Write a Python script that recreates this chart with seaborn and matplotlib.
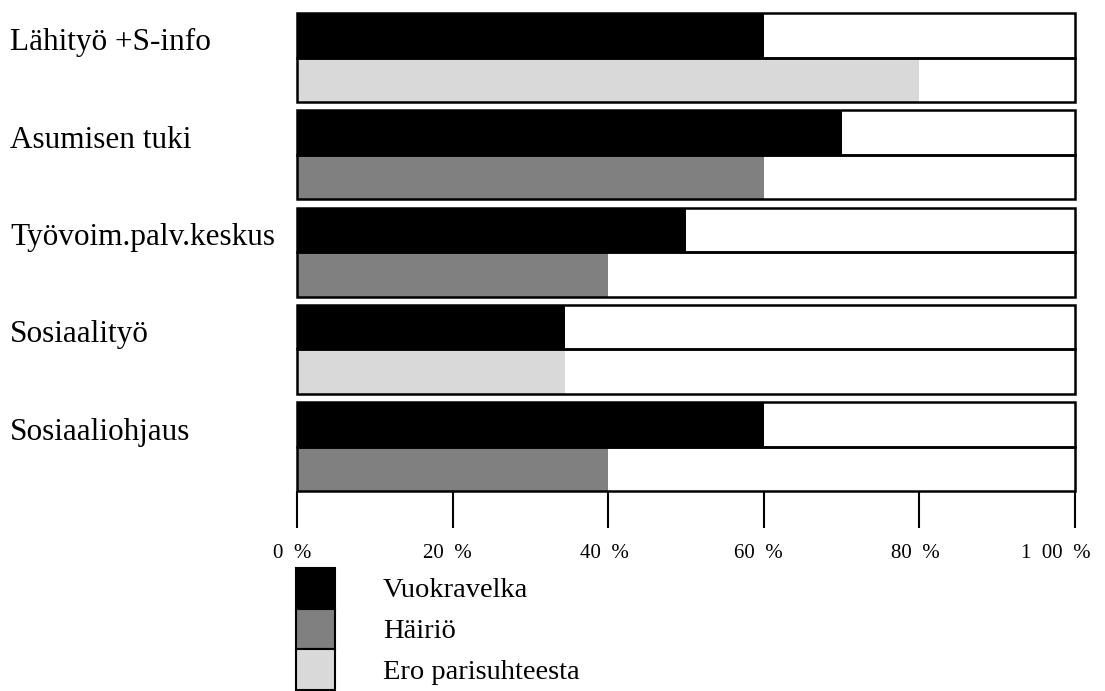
import numpy as np
import pandas as pd
import seaborn as sns
import matplotlib.pyplot as plt
from matplotlib.patches import Patch
from matplotlib import transforms
sns.set_style('white')
plt.rcParams['font.family'] = ['Liberation Serif', 'DejaVu Serif']
plt.rcParams['text.color'] = 'black'
plt.rcParams['xtick.color'] = 'black'

# data
categories = ["Lähityö +S-info", "Asumisen tuki", "Työvoim.palv.keskus", "Sosiaalityö", "Sosiaaliohjaus"]
vuokravelka = [60, 70, 50, 34.5, 60]
toinen_sarja = ["Ero parisuhteesta", "Häiriö", "Häiriö", "Ero parisuhteesta", "Häiriö"]
toinen_arvo = [80, 60, 40, 34.5, 40]
series_names = ["Vuokravelka", "Häiriö", "Ero parisuhteesta"]
series_colors = {"Vuokravelka": "#000000", "Häiriö": "#808080", "Ero parisuhteesta": "#d9d9d9"}
x_ticks = [0, 20, 40, 60, 80, 100]
x_labels = ["0  %", "20  %", "40  %", "60  %", "80  %", "1  00  %"]

df = pd.DataFrame({
    'kategoria': categories * 2,
    'rivi': ['yla'] * len(categories) + ['ala'] * len(categories),
    'sarja': ['Vuokravelka'] * len(categories) + toinen_sarja,
    'arvo': vuokravelka + toinen_arvo,
})
df['kehys'] = 100
rows = ['yla', 'ala']
W = 0.915

fig = plt.figure(figsize=(11.05, 6.91), dpi=100)
ax = fig.add_axes([297 / 1105, 1 - 491.3 / 691, 778 / 1105, 482.4 / 691])

# filled bars
sns.barplot(data=df, y='kategoria', x='arvo', hue='rivi', hue_order=rows, order=categories,
            orient='h', width=W, palette=['black', 'black'], saturation=1, linewidth=0,
            errorbar=None, legend=False, ax=ax)
for cont, r in zip(ax.containers, rows):
    for bar, s in zip(cont, df[df['rivi'] == r]['sarja']):
        bar.set_facecolor(series_colors[s])
        bar.set_edgecolor('none')

# 100 % frames on top
sns.barplot(data=df, y='kategoria', x='kehys', hue='rivi', hue_order=rows, order=categories,
            orient='h', width=W, palette=['black', 'black'], saturation=1, fill=False,
            linewidth=1.8, errorbar=None, legend=False, ax=ax)
for p in ax.patches:
    p.set_clip_on(False)

ax.set_xlim(0, 100)
ax.set_ylim(len(categories) - 1 + W / 2, -0.5)
ax.set_xlabel('')
ax.set_ylabel('')
for sp in ax.spines.values():
    sp.set_visible(False)
ax.tick_params(axis='y', left=False, labelleft=False)
ax.set_xticks(x_ticks)
ax.set_xticklabels(x_labels, fontsize=15)
ax.tick_params(axis='x', bottom=True, direction='out', length=26.6, width=1.5, color='black',
               labelcolor='black', pad=11)
offsets = [-5, -5, -4, -5, -4, -19]
for lab, dx in zip(ax.get_xticklabels(), offsets):
    lab.set_transform(lab.get_transform() + transforms.ScaledTranslation(dx / 100, 0, fig.dpi_scale_trans))

# category labels on the left
trans = transforms.blended_transform_factory(fig.transFigure, ax.transData)
for i, c in enumerate(categories):
    ax.text(10 / 1105, i - 0.15, c, transform=trans, ha='left', va='center', fontsize=22.5, color='black')

# legend
handles = [Patch(facecolor=series_colors[s], edgecolor='black', linewidth=1.5) for s in series_names]
leg = ax.legend(handles, series_names, loc='upper left', bbox_to_anchor=(296 / 1105, 1 - 568 / 691),
                bbox_transform=fig.transFigure, frameon=False, borderpad=0, borderaxespad=0,
                handlelength=1.37, handleheight=1.82, handletextpad=1.68, labelspacing=0, fontsize=20.5)
for t in leg.get_texts():
    t.set_color('black')

fig.savefig('out.png', dpi=100)
